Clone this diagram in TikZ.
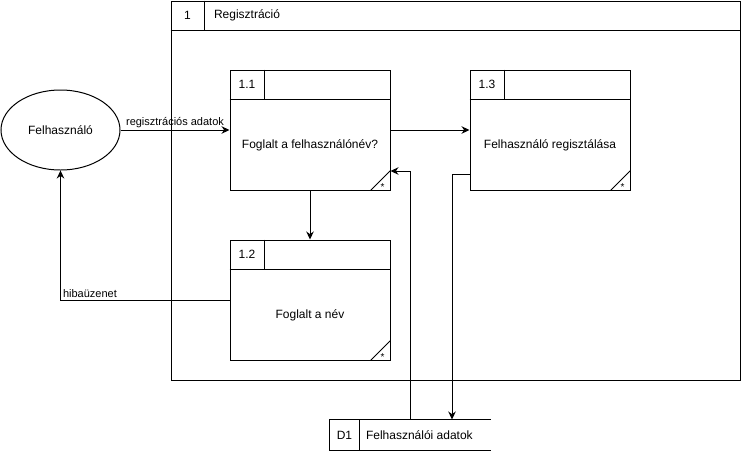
\documentclass[tikz,border=0pt]{standalone}
\usepackage{fontspec}
\setmainfont{Liberation Sans}
\usepackage{tikz}
\usetikzlibrary{arrows.meta, shapes.geometric}

\begin{document}
\begin{tikzpicture}[x=1pt, y=-1pt, line width=1pt,
  proc/.style={draw, minimum width=160pt, minimum height=120pt, inner sep=0},
  flow/.style={-{Stealth[length=8pt, width=7.5pt]}},
  txt/.style={font=\fontsize{12}{14}\selectfont, inner sep=0},
  lbl/.style={font=\fontsize{11}{13}\selectfont, inner sep=2pt}]

  \useasboundingbox (0, 0) rectangle (741, 451);

  % process 1
  \node[draw, minimum width=569pt, minimum height=379pt, inner sep=0] (reg) at (455.5, 190.5) {};
  \draw ([yshift=-30pt]reg.north west) -- ([yshift=-30pt]reg.north east);
  \draw ([xshift=34pt]reg.north west) -- ([xshift=34pt, yshift=-30pt]reg.north west);
  \node[txt] (reg-num) at ([xshift=17pt, yshift=-15pt]reg.north west) { 1 };
  \node[txt, anchor=west] (reg-txt) at ([xshift=43pt, yshift=-15pt]reg.north west) { Regisztráció };

  % sub processes
  \node[proc] (p11) at (310, 130) {};
  \node[proc] (p12) at (310, 300) {};
  \node[proc] (p13) at (550, 130) {};

  \foreach \b/\n/\t in {p11/1.1/Foglalt a felhasználónév?, p12/1.2/Foglalt a név, p13/1.3/Felhasználó regisztálása} {
    \draw ([yshift=-30pt]\b.north west) -- ([yshift=-30pt]\b.north east);
    \draw ([xshift=35pt]\b.north west) -- ([xshift=35pt, yshift=-30pt]\b.north west);
    \node[txt] (\b-num) at ([xshift=17.5pt, yshift=-15pt]\b.north west) { \n };
    \node[txt] (\b-txt) at ([yshift=-15pt]\b.center) { \t };
    \draw ([xshift=-20pt]\b.south east) -- ([yshift=20pt]\b.south east);
    \node[font=\fontsize{10}{10}\selectfont, inner sep=0, anchor=base] (\b-star) at ([xshift=-8pt, yshift=0.5pt]\b.south east) { * };
  }

  % user and data store
  \node[draw, ellipse, txt, minimum width=119pt, minimum height=80pt] (user) at (60.5, 130) { Felhasználó };

  \node[minimum width=160pt, minimum height=30pt, inner sep=0] (d1) at (410, 435) {};
  \draw (d1.north east) -- (d1.north west) -- (d1.south west) -- (d1.south east);
  \draw ([xshift=30pt]d1.north west) -- ([xshift=30pt]d1.south west);
  \node[txt] (d1-num) at ([xshift=15pt]d1.west) { D1 };
  \node[txt, anchor=west] (d1-txt) at ([xshift=36pt]d1.west) { Felhasználói adatok };

  % flows
  \draw[flow] (user) -- (p11) node[lbl, midway, above] (l-reg) { regisztrációs adatok };
  \draw[flow] (p11) -- (p13);
  \draw[flow] (p11) -- (p12);
  \draw[flow] (p12) -| (user) node[lbl, pos=0.5, above right] (l-hiba) { hibaüzenet };

  \coordinate (in11) at ([yshift=-41pt]p11.east);
  \draw[flow] (d1.north) |- (in11);
  \coordinate (out13) at ([yshift=-44pt]p13.west);
  \coordinate (in-d1) at ([xshift=42pt]d1.north);
  \draw[flow] (out13) -| (in-d1);

\end{tikzpicture}
\end{document}
